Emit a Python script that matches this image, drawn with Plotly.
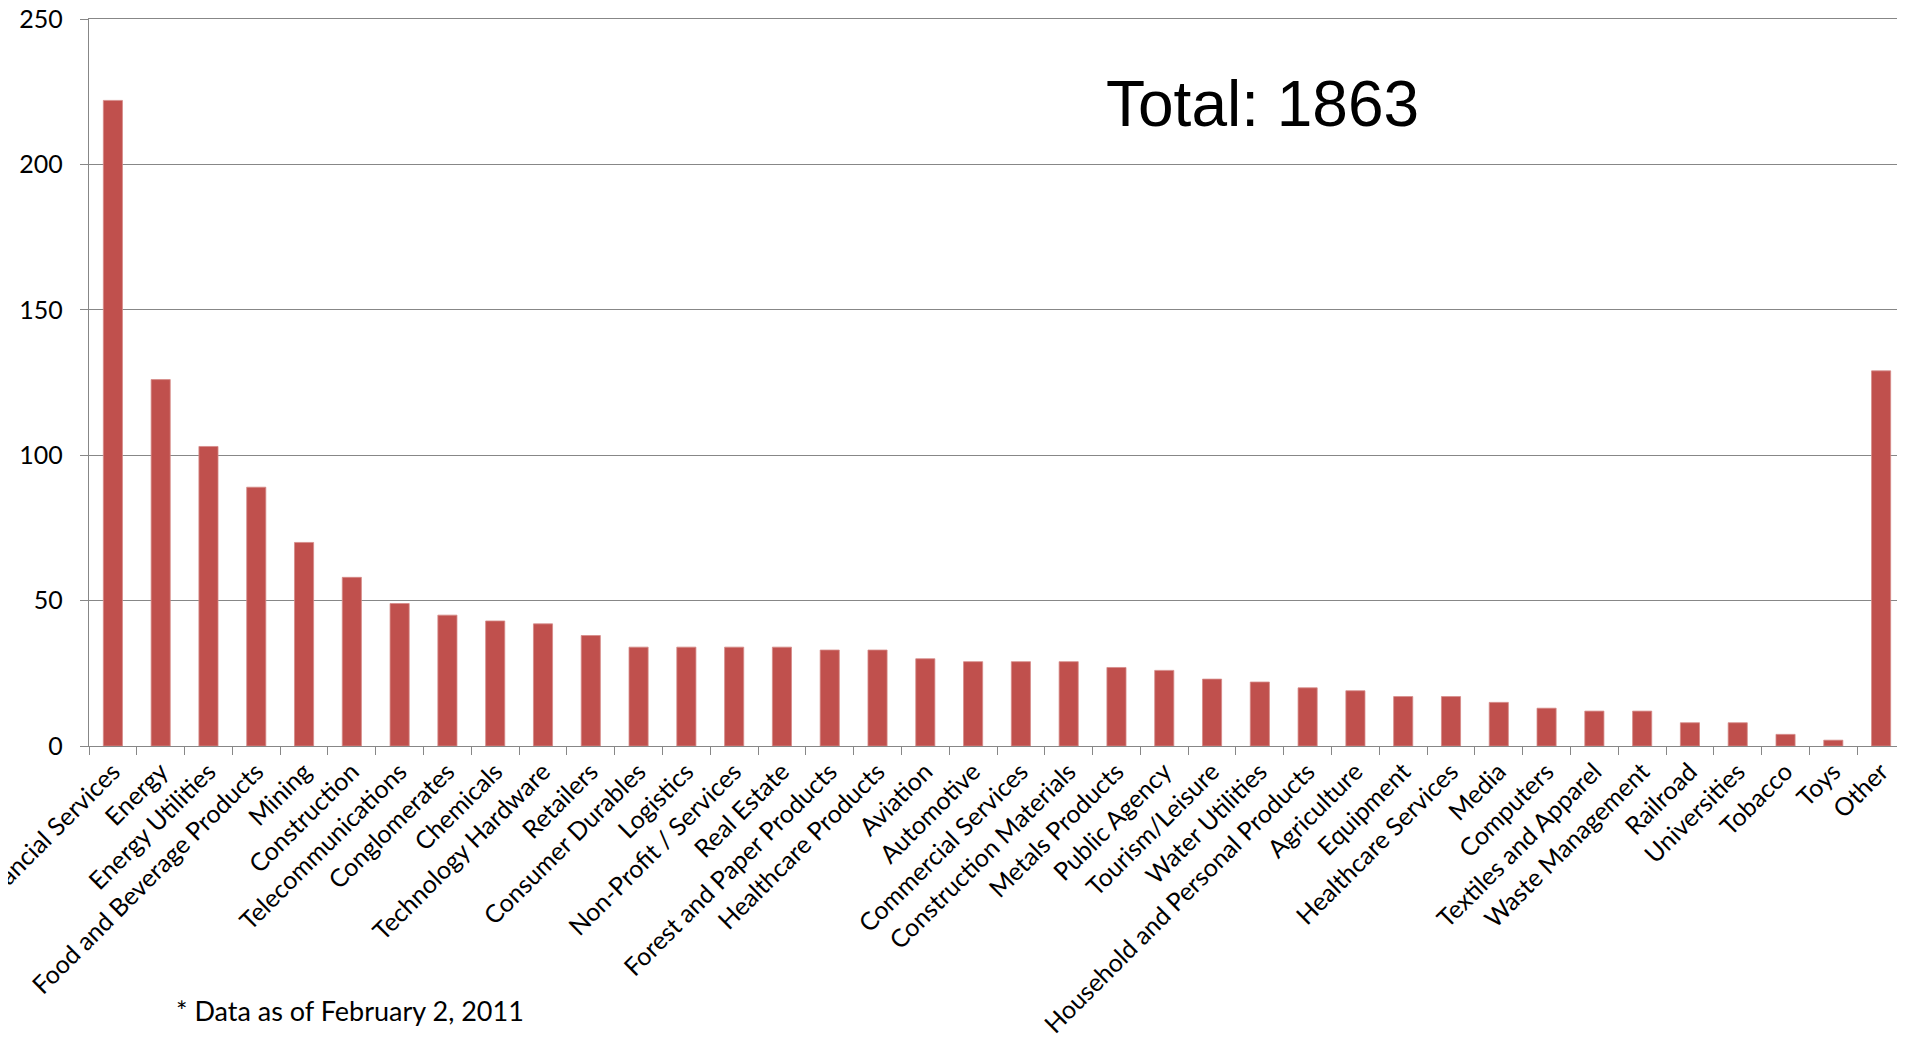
import plotly.graph_objects as go

categories = ["Financial Services", "Energy", "Energy Utilities", "Food and Beverage Products",
              "Mining", "Construction", "Telecommunications", "Conglomerates", "Chemicals",
              "Technology Hardware", "Retailers", "Consumer Durables", "Logistics",
              "Non-Profit / Services", "Real Estate", "Forest and Paper Products",
              "Healthcare Products", "Aviation", "Automotive", "Commercial Services",
              "Construction Materials", "Metals Products", "Public Agency", "Tourism/Leisure",
              "Water Utilities", "Household and Personal Products", "Agriculture", "Equipment",
              "Healthcare Services", "Media", "Computers", "Textiles and Apparel",
              "Waste Management", "Railroad", "Universities", "Tobacco", "Toys", "Other"]
values = [222, 126, 103, 89, 70, 58, 49, 45, 43, 42, 38, 34, 34, 34, 34, 33, 33, 30, 29, 29,
          29, 27, 26, 23, 22, 20, 19, 17, 17, 15, 13, 12, 12, 8, 8, 4, 2, 129]
y_ticks = [0, 50, 100, 150, 200, 250]
total_label = "Total: 1863"
footnote = "* Data as of February 2, 2011"

GRID = "#878787"
BAR = "#C0504D"

fig = go.Figure(go.Bar(
    x=categories, y=values,
    marker=dict(color=BAR, line=dict(color="#D58A88", width=0.8)),
))

fig.update_layout(
    width=1897, height=1031,
    margin=dict(l=81, r=0, t=11, b=293),
    paper_bgcolor="white", plot_bgcolor="white",
    bargap=0.6, showlegend=False,
    font=dict(family="Lato, Calibri, sans-serif", color="black", size=25),
)
fig.update_xaxes(
    type="category", tickangle=-45, tickfont=dict(size=25), automargin=False,
    showline=True, mirror=True, linecolor=GRID, linewidth=1.3,
    ticks="outside", tickson="boundaries", ticklen=8, tickcolor=GRID, tickwidth=1.3,
    showgrid=False, range=[-0.5, len(categories) - 0.5],
)
fig.update_yaxes(
    range=[0, 250], tickvals=y_ticks, tickfont=dict(size=25), automargin=False,
    showline=True, linecolor=GRID, linewidth=1.3, ticklabelstandoff=12,
    ticklabeloverflow="allow",
    ticks="outside", ticklen=8, tickcolor=GRID, tickwidth=1.3,
    showgrid=True, gridcolor=GRID, gridwidth=1.3, zeroline=False,
)

fig.add_annotation(
    text=total_label, xref="paper", yref="paper", x=(1262 - 89) / 1816, y=0.883,
    xanchor="center", yanchor="middle", showarrow=False,
    font=dict(family="Liberation Sans, Arial, sans-serif", size=64, color="black"),
)
fig.add_annotation(
    text=footnote, xref="paper", yref="paper", x=(174 - 89) / 1816, y=-0.364,
    xanchor="left", yanchor="middle", showarrow=False,
    font=dict(family="Lato, Calibri, sans-serif", size=27, color="black"),
)

fig.write_html("out.html")
